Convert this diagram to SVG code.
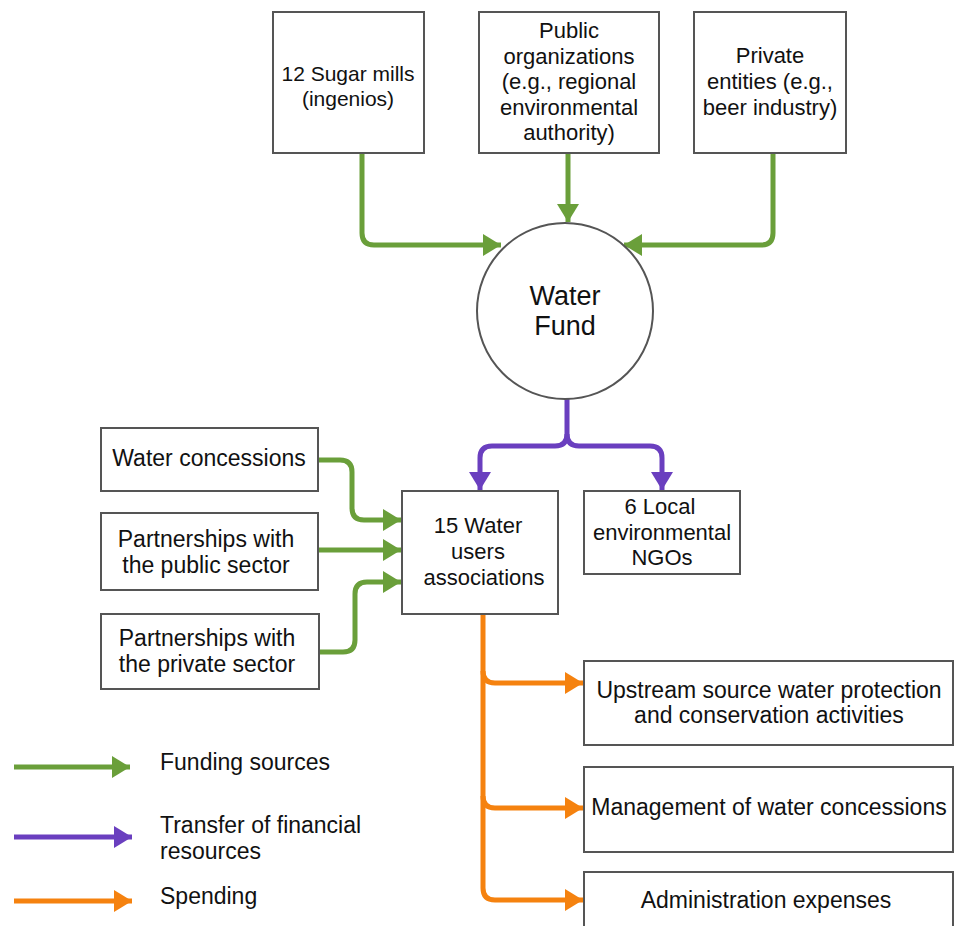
<svg xmlns="http://www.w3.org/2000/svg" width="954" height="926" viewBox="0 0 954 926">
<defs>
<marker id="ag" markerUnits="userSpaceOnUse" markerWidth="20" markerHeight="24" refX="18" refY="12" orient="auto"><path d="M0,1 L18,12 L0,23 Z" fill="#6a9f3a"/></marker>
<marker id="ap" markerUnits="userSpaceOnUse" markerWidth="20" markerHeight="24" refX="18" refY="12" orient="auto"><path d="M0,1 L18,12 L0,23 Z" fill="#6a3fbf"/></marker>
<marker id="ao" markerUnits="userSpaceOnUse" markerWidth="20" markerHeight="24" refX="18" refY="12" orient="auto"><path d="M0,1 L18,12 L0,23 Z" fill="#f5820f"/></marker>
<style>
.box{fill:#fff;stroke:#555;stroke-width:2}
text{font-family:"Liberation Sans",Arial,sans-serif;font-size:23px;fill:#111;text-anchor:middle}
.t{font-size:22px}
.lg{text-anchor:start}
.g{fill:none;stroke:#6a9f3a;stroke-width:5}
.p{fill:none;stroke:#6a3fbf;stroke-width:5}
.o{fill:none;stroke:#f5820f;stroke-width:5}
</style>
</defs>
<rect width="954" height="926" fill="#fff"/>
<g id="connectors">
<path class="g" d="M362,153 V233 Q362,245 374,245 H501" marker-end="url(#ag)"/>
<path class="g" d="M568,153 V222" marker-end="url(#ag)"/>
<path class="g" d="M773,153 V233 Q773,245 761,245 H624" marker-end="url(#ag)"/>
<path class="p" d="M567,399 V434 Q567,446 555,446 H492 Q480,446 480,458 V490" marker-end="url(#ap)"/>
<path class="p" d="M567,434 Q567,446 579,446 H650 Q662,446 662,458 V490" marker-end="url(#ap)"/>
<path class="g" d="M318,460 H340 Q352,460 352,472 V508 Q352,520 364,520 H401" marker-end="url(#ag)"/>
<path class="g" d="M318,550 H401" marker-end="url(#ag)"/>
<path class="g" d="M318,652 H343 Q355,652 355,640 V594 Q355,582 367,582 H401" marker-end="url(#ag)"/>
<path class="o" d="M483,614 V888 Q483,900 495,900 H583" marker-end="url(#ao)"/>
<path class="o" d="M483,671 Q483,683 495,683 H583" marker-end="url(#ao)"/>
<path class="o" d="M483,796 Q483,808 495,808 H583" marker-end="url(#ao)"/>
<path class="g" d="M14,767 H130" marker-end="url(#ag)"/>
<path class="p" d="M14,837 H132" marker-end="url(#ap)"/>
<path class="o" d="M14,901 H132" marker-end="url(#ao)"/>
</g>
<g id="sugar"><rect class="box" x="273" y="12" width="151" height="141"/><text class="t" x="348" y="81" style="font-size:21px">12 Sugar mills</text><text class="t" x="348" y="106" style="font-size:21px">(ingenios)</text></g>
<g id="public"><rect class="box" x="479" y="12" width="180" height="141"/><text class="t" x="569" y="38">Public</text><text class="t" x="569" y="64">organizations</text><text class="t" x="569" y="89">(e.g., regional</text><text class="t" x="569" y="115">environmental</text><text class="t" x="569" y="140">authority)</text></g>
<g id="private"><rect class="box" x="694" y="12" width="152" height="141"/><text class="t" x="770" y="63">Private</text><text class="t" x="770" y="89">entities (e.g.,</text><text class="t" x="770" y="115">beer industry)</text></g>
<g id="fund"><circle cx="565" cy="311" r="88" fill="#fff" stroke="#555" stroke-width="2"/><text x="565" y="305" style="font-size:27px">Water</text><text x="565" y="335" style="font-size:27px">Fund</text></g>
<g id="concessions"><rect class="box" x="101" y="428" width="217" height="63"/><text x="209" y="466">Water concessions</text></g>
<g id="pubsector"><rect class="box" x="101" y="513" width="217" height="77"/><text x="206" y="547">Partnerships with</text><text x="206" y="573">the public sector</text></g>
<g id="privsector"><rect class="box" x="101" y="614" width="218" height="75"/><text x="207" y="646">Partnerships with</text><text x="207" y="672">the private sector</text></g>
<g id="wua"><rect class="box" x="402" y="491" width="156" height="123"/><text class="t" x="478" y="533">15 Water</text><text class="t" x="478" y="559">users</text><text class="t" x="484" y="585">associations</text></g>
<g id="ngo"><rect class="box" x="584" y="491" width="156" height="83"/><text class="t" x="660" y="514">6 Local</text><text class="t" x="662" y="540">environmental</text><text class="t" x="662" y="565">NGOs</text></g>
<g id="upstream"><rect class="box" x="584" y="661" width="369" height="84"/><text x="769" y="698">Upstream source water protection</text><text x="769" y="723">and conservation activities</text></g>
<g id="management"><rect class="box" x="584" y="767" width="369" height="85"/><text x="769" y="815">Management of water concessions</text></g>
<g id="admin"><rect class="box" x="584" y="872" width="369" height="60"/><text x="766" y="908">Administration expenses</text></g>
<g id="legend"><text class="lg" x="160" y="770">Funding sources</text><text class="lg" x="160" y="833">Transfer of financial</text><text class="lg" x="160" y="859">resources</text><text class="lg" x="160" y="904">Spending</text></g>
</svg>
